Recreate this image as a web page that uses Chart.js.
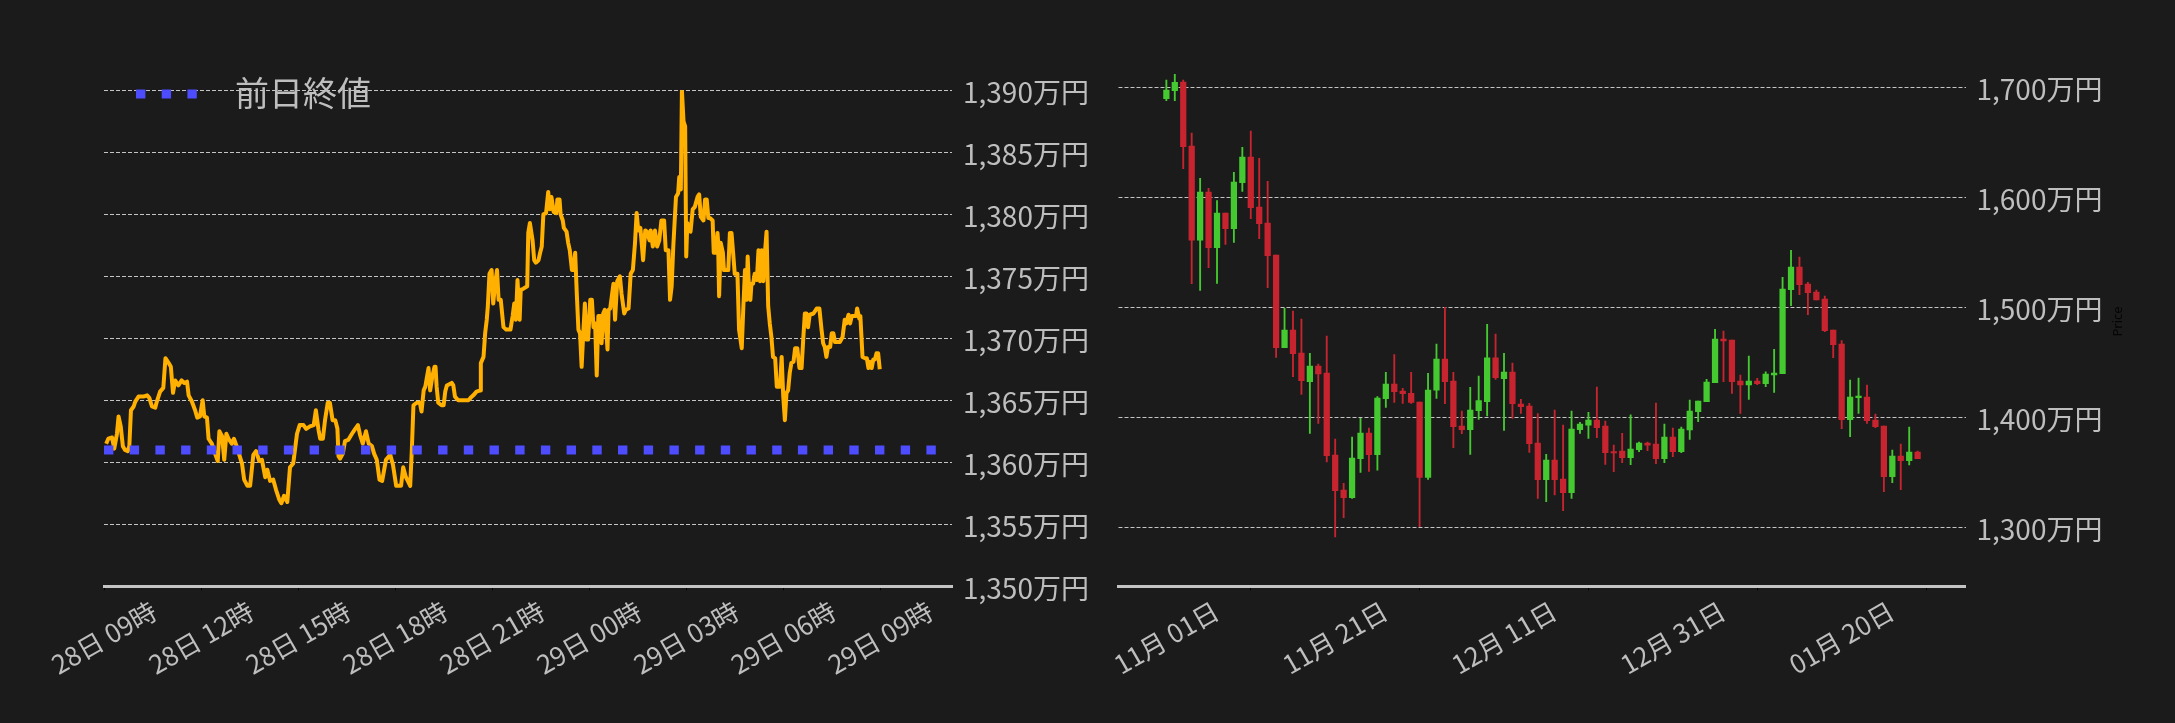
<!DOCTYPE html>
<html>
<head>
<meta charset="utf-8">
<script src="https://cdn.jsdelivr.net/npm/chart.js@4.4.1/dist/chart.umd.min.js"></script>
<style>
    html, body { margin: 0; padding: 0; background: #1b1b1b; overflow: hidden; }
    #wrap { position: relative; width: 2175px; height: 723px; }
    #intraday { position: absolute; left: 0; top: 0; width: 1100px; height: 723px; }
    #daily { position: absolute; left: 1100px; top: 0; width: 1075px; height: 723px; }
</style>
</head>
<body>
<div id="wrap">
    <canvas id="intraday" width="1100" height="723"></canvas>
    <canvas id="daily" width="1075" height="723"></canvas>
</div>
<script>
// 左: 28日 09時からの経過分と価格(万円)
const intradayMinutes = [
    4, 8, 15, 19, 24, 27, 31, 35, 39, 44, 47, 50, 55, 58, 64, 73, 80, 84, 89, 95,
    98, 104, 110, 114, 120, 124, 128, 132, 138, 144, 149, 154, 157, 163, 169, 173, 178, 183, 186, 191,
    194, 200, 206, 211, 214, 219, 223, 227, 231, 237, 241, 246, 251, 256, 260, 266, 271, 277, 282, 288,
    293, 299, 303, 308, 314, 319, 325, 329, 334, 340, 345, 351, 358, 363, 370, 375, 382, 389, 393, 398,
    401, 406, 410, 415, 419, 424, 429, 433, 435, 438, 443, 447, 453, 460, 466, 471, 475, 480, 486, 491,
    497, 501, 506, 511, 516, 523, 531, 536, 542, 551, 555, 560, 568, 571, 574, 580, 586, 589, 593, 596,
    602, 605, 609, 613, 615, 617, 620, 626, 630, 633, 636, 645, 648, 651, 657, 667, 676, 680, 685, 691,
    698, 699, 704, 707, 710, 712, 715, 719, 722, 725, 729, 732, 736, 741, 746, 750, 754, 758, 761, 764,
    767, 771, 773, 778, 785, 787, 790, 795, 798, 801, 806, 809, 812, 815, 820, 824, 827, 830, 834, 839,
    841, 845, 847, 851, 853, 858, 861, 864, 868, 871, 874, 877, 880, 883, 886, 889, 892, 895, 898, 902,
    905, 908, 911, 914, 917, 921, 923, 926, 929, 934, 936, 939, 945, 948, 952, 957, 960, 965, 968, 973,
    977, 981, 985, 988, 991, 995, 1000, 1004, 1007, 1012, 1014, 1018, 1022, 1026, 1030, 1034, 1039, 1042, 1047, 1050,
    1053, 1056, 1061, 1065, 1067, 1070, 1072, 1075, 1078, 1080, 1082, 1086, 1088, 1092, 1096, 1101, 1104, 1107, 1112, 1115,
    1118, 1121, 1124, 1129, 1131, 1135, 1138, 1139, 1141, 1144, 1148, 1150, 1154, 1158, 1161, 1164, 1167, 1170, 1175, 1178,
    1183, 1186, 1189, 1192, 1194, 1197, 1199, 1201, 1204, 1207, 1211, 1214, 1217, 1220, 1223, 1226, 1229, 1232, 1235, 1238,
    1241, 1245, 1248, 1251, 1254, 1257, 1260, 1263, 1266, 1269, 1272, 1275, 1279, 1282, 1286, 1290, 1294, 1297, 1300, 1303,
    1306, 1309, 1316, 1322, 1327, 1331, 1334, 1337, 1340, 1343, 1347, 1350, 1353, 1356, 1359, 1365, 1370, 1374, 1377, 1381,
    1384, 1387, 1390, 1395, 1397, 1401, 1403, 1407, 1411, 1415, 1418, 1421, 1424, 1427, 1430, 1433, 1436, 1439
];
const intradayPrices = [
    1361.5, 1361.9, 1362.0, 1361.1, 1362.3, 1363.7, 1362.9, 1361.3, 1361.0, 1360.9, 1361.3, 1364.2, 1364.5, 1364.9, 1365.3, 1365.3, 1365.4, 1365.2, 1364.5, 1364.4,
    1364.9, 1365.7, 1366.0, 1368.4, 1368.0, 1367.7, 1365.6, 1366.6, 1366.2, 1366.6, 1366.4, 1366.5, 1365.4, 1364.9, 1364.2, 1363.6, 1363.7, 1365.0, 1363.7, 1363.6,
    1361.9, 1361.5, 1360.7, 1360.1, 1362.5, 1362.1, 1360.2, 1362.3, 1361.9, 1361.5, 1361.9, 1361.3, 1360.6, 1359.9, 1358.6, 1358.1, 1358.1, 1360.6, 1360.9, 1360.1,
    1360.2, 1358.8, 1359.4, 1358.5, 1358.6, 1357.8, 1357.0, 1356.7, 1357.3, 1356.8, 1359.6, 1359.9, 1362.3, 1363.0, 1363.0, 1362.7, 1362.9, 1363.0, 1364.2, 1362.6,
    1361.9, 1361.9, 1363.4, 1364.8, 1364.8, 1363.4, 1363.4, 1362.7, 1360.5, 1360.3, 1360.7, 1361.7, 1361.8, 1362.3, 1362.7, 1363.0, 1362.2, 1361.5, 1362.5, 1361.5,
    1361.3, 1360.7, 1360.2, 1358.6, 1358.5, 1360.2, 1360.6, 1359.8, 1358.1, 1358.1, 1359.6, 1358.8, 1358.1, 1361.0, 1364.6, 1364.8, 1364.8, 1364.1, 1365.8, 1366.1,
    1367.6, 1365.8, 1366.9, 1367.7, 1367.7, 1366.1, 1364.8, 1364.6, 1364.6, 1365.7, 1366.2, 1366.4, 1366.2, 1365.3, 1365.0, 1365.0, 1365.0, 1365.2, 1365.4, 1365.7,
    1365.8, 1368.0, 1368.5, 1370.4, 1371.5, 1372.6, 1375.2, 1375.5, 1372.8, 1374.2, 1375.5, 1373.1, 1373.1, 1370.9, 1370.7, 1370.7, 1370.7, 1371.8, 1372.8, 1371.5,
    1374.7, 1371.5, 1373.9, 1374.0, 1374.2, 1378.5, 1379.3, 1377.9, 1376.3, 1376.1, 1376.3, 1376.9, 1377.4, 1380.0, 1380.1, 1381.8, 1380.4, 1381.4, 1380.2, 1380.1,
    1381.2, 1381.2, 1380.0, 1379.5, 1378.9, 1378.6, 1377.7, 1377.1, 1375.5, 1375.5, 1376.9, 1373.6, 1370.7, 1370.4, 1367.7, 1370.4, 1372.8, 1369.9, 1369.9, 1373.1,
    1373.1, 1370.9, 1371.2, 1367.0, 1371.8, 1371.8, 1369.6, 1372.0, 1372.3, 1369.1, 1372.3, 1372.4, 1374.4, 1371.5, 1374.6, 1375.0, 1373.6, 1372.0, 1372.3, 1372.4,
    1375.2, 1375.5, 1377.7, 1380.1, 1378.7, 1378.9, 1376.3, 1378.7, 1378.6, 1377.9, 1378.7, 1377.4, 1378.7, 1377.4, 1377.9, 1379.5, 1379.5, 1377.1, 1377.1, 1373.1,
    1374.2, 1377.4, 1381.4, 1381.7, 1383.0, 1382.0, 1390.0, 1387.5, 1387.1, 1376.6, 1379.3, 1378.7, 1378.6, 1380.4, 1380.6, 1381.4, 1381.6, 1379.8, 1379.5, 1381.2,
    1381.2, 1379.7, 1379.7, 1379.5, 1376.9, 1376.9, 1378.5, 1377.9, 1373.4, 1377.7, 1376.9, 1375.5, 1375.5, 1375.5, 1378.5, 1378.5, 1376.9, 1375.2, 1375.2, 1370.7,
    1369.2, 1372.6, 1375.5, 1373.1, 1376.6, 1373.4, 1373.1, 1374.4, 1374.4, 1375.2, 1374.7, 1377.1, 1374.6, 1377.1, 1374.6, 1376.9, 1378.6, 1372.6, 1371.2, 1370.1,
    1368.5, 1368.4, 1366.1, 1366.1, 1366.1, 1368.5, 1365.3, 1363.4, 1365.6, 1365.8, 1367.2, 1368.0, 1368.1, 1369.2, 1369.2, 1367.6, 1367.6, 1369.9, 1372.0, 1372.0,
    1370.9, 1371.9, 1372.0, 1372.4, 1372.4, 1370.7, 1369.6, 1369.3, 1368.5, 1369.3, 1369.3, 1370.4, 1370.4, 1369.7, 1369.7, 1369.7, 1370.1, 1371.5, 1371.2, 1371.9,
    1371.2, 1371.8, 1371.8, 1371.8, 1372.4, 1371.6, 1371.8, 1368.5, 1368.4, 1368.4, 1367.6, 1368.1, 1367.6, 1368.3, 1368.3, 1368.8, 1368.8, 1367.5
];
const prevCloseLabel = '前日終値';
const prevCloseValue = 1361.0;
const intradayXMax = 1573;
const intradayTickMinutes = [0, 180, 360, 540, 720, 900, 1080, 1260, 1440];
const intradayTickLabels = ['28日 09時', '28日 12時', '28日 15時', '28日 18時', '28日 21時', '29日 00時', '29日 03時', '29日 06時', '29日 09時'];
const intradayYTicks = [1350, 1355, 1360, 1365, 1370, 1375, 1380, 1385, 1390];

// 右: 日足 (11月 01日 = 0)
const candleOpen = [
    1689.7, 1697.0, 1704.8, 1646.7, 1561.2, 1604.8, 1554.2, 1585.8, 1571.5, 1613.3,
    1636.7, 1591.2, 1576.7, 1547.6, 1463.3, 1479.4, 1458.5, 1432.4, 1446.7, 1440.3,
    1365.8, 1333.9, 1326.9, 1362.4, 1385.8, 1366.1, 1416.9, 1430.3, 1423.9, 1421.8,
    1413.9, 1345.5, 1424.8, 1453.0, 1433.0, 1392.1, 1388.8, 1406.1, 1414.2, 1454.2,
    1435.2, 1441.2, 1412.1, 1410.3, 1376.7, 1343.3, 1361.2, 1343.9, 1331.5, 1388.8,
    1393.0, 1397.6, 1392.1, 1368.5, 1369.4, 1363.3, 1370.6, 1376.7, 1375.8, 1362.4,
    1382.1, 1368.8, 1388.5, 1405.2, 1414.2, 1431.5, 1471.2, 1470.3, 1433.0, 1429.4,
    1433.0, 1430.6, 1438.5, 1439.7, 1516.0, 1536.7, 1521.2, 1513.9, 1507.6, 1479.4,
    1466.7, 1397.9, 1418.0, 1418.5, 1397.6, 1392.1, 1346.1, 1364.8, 1360.6, 1368.5
];
const candleHigh = [
    1706.7, 1711.8, 1706.7, 1658.5, 1617.3, 1608.2, 1597.0, 1585.8, 1622.7, 1645.5,
    1660.3, 1635.5, 1614.5, 1547.6, 1499.1, 1496.7, 1489.4, 1458.2, 1448.5, 1473.9,
    1380.3, 1340.0, 1382.1, 1399.1, 1390.3, 1418.8, 1440.9, 1457.1, 1426.4, 1441.0,
    1413.9, 1440.0, 1466.7, 1500.0, 1440.9, 1405.8, 1427.3, 1437.6, 1484.5, 1475.8,
    1458.2, 1449.4, 1416.4, 1412.7, 1403.5, 1366.4, 1406.7, 1393.0, 1405.8, 1395.5,
    1404.5, 1427.6, 1396.7, 1374.8, 1385.5, 1402.4, 1377.6, 1377.6, 1413.0, 1393.9,
    1390.3, 1391.2, 1415.8, 1414.8, 1434.5, 1480.0, 1478.5, 1470.3, 1438.5, 1455.8,
    1435.5, 1441.5, 1461.8, 1527.3, 1551.8, 1545.8, 1522.7, 1515.8, 1510.3, 1479.4,
    1469.7, 1433.9, 1435.8, 1429.4, 1403.0, 1392.1, 1370.3, 1375.8, 1391.2, 1369.4
];
const candleLow = [
    1687.9, 1687.9, 1626.1, 1521.5, 1515.5, 1536.0, 1521.8, 1557.3, 1559.1, 1605.5,
    1580.6, 1562.4, 1517.9, 1454.5, 1463.3, 1436.9, 1420.9, 1385.5, 1394.5, 1359.5,
    1291.2, 1308.8, 1326.4, 1350.0, 1350.9, 1352.0, 1409.0, 1413.6, 1412.7, 1412.7,
    1300.5, 1343.5, 1417.3, 1412.4, 1372.4, 1385.2, 1366.4, 1398.2, 1401.2, 1434.5,
    1388.2, 1399.1, 1403.5, 1368.2, 1326.4, 1323.3, 1329.4, 1315.2, 1326.4, 1385.5,
    1380.9, 1381.5, 1357.3, 1350.6, 1358.8, 1357.0, 1368.8, 1369.7, 1357.9, 1358.8,
    1364.2, 1367.9, 1380.0, 1396.0, 1414.2, 1431.5, 1432.4, 1421.8, 1403.6, 1416.4,
    1429.7, 1427.9, 1422.7, 1439.7, 1501.5, 1511.5, 1493.3, 1506.7, 1477.9, 1454.2,
    1389.7, 1382.4, 1403.6, 1394.5, 1390.6, 1332.4, 1340.6, 1334.2, 1356.7, 1362.4
];
const candleClose = [
    1697.6, 1704.5, 1646.1, 1561.2, 1604.8, 1554.2, 1585.8, 1571.5, 1613.9, 1636.7,
    1590.6, 1576.1, 1547.0, 1463.3, 1479.4, 1457.9, 1433.3, 1446.7, 1439.5, 1365.2,
    1333.3, 1326.9, 1363.0, 1385.8, 1366.1, 1417.6, 1430.3, 1423.3, 1421.6, 1413.6,
    1345.5, 1424.8, 1453.0, 1432.4, 1391.5, 1388.8, 1406.7, 1415.2, 1454.2, 1436.1,
    1441.2, 1412.4, 1409.7, 1376.1, 1343.3, 1361.2, 1343.3, 1331.5, 1389.4, 1393.9,
    1397.6, 1390.6, 1367.9, 1367.6, 1363.3, 1371.2, 1376.7, 1374.8, 1362.4, 1382.1,
    1368.8, 1389.4, 1405.8, 1414.8, 1432.1, 1471.2, 1469.4, 1432.4, 1429.4, 1433.0,
    1430.6, 1439.4, 1440.3, 1516.7, 1536.7, 1520.6, 1513.3, 1506.7, 1478.8, 1466.1,
    1397.9, 1418.5, 1418.5, 1397.0, 1391.5, 1346.1, 1364.8, 1360.6, 1368.5, 1362.4
];
const dailyXMin = -5.67;
const dailyXMax = 94.67;
const dailyTickDays = [0, 20, 40, 60, 80];
const dailyTickLabels = ['11月 01日', '11月 21日', '12月 11日', '12月 31日', '01月 20日'];
const dailyYTicks = [1300, 1400, 1500, 1600, 1700];
const priceAxisTitle = 'Price';

Chart.defaults.font.family = '"Noto Sans CJK JP", "Noto Sans", sans-serif';
Chart.defaults.animation = false;

const labelColor = '#bebebe';
const gridColor = 'rgba(215, 215, 215, 0.9)';
const upColor = '#45c930';
const downColor = '#c8242f';

function manYen(v) {
    return Number(v).toLocaleString('en-US') + '万円';
}

// 凡例はプロットの中に描く
const prevCloseLegend = {
    id: 'prevCloseLegend',
    afterDatasetsDraw(chart) {
        const ds = chart.data.datasets.find(d => d.label === prevCloseLabel);
        const ctx = chart.ctx;
        const area = chart.chartArea;
        ctx.save();
        ctx.strokeStyle = ds.borderColor;
        ctx.lineWidth = ds.borderWidth;
        ctx.lineCap = 'butt';
        ctx.setLineDash(ds.borderDash);
        ctx.beginPath();
        ctx.moveTo(area.left + 32, area.top + 3.7);
        ctx.lineTo(area.left + 93, area.top + 3.7);
        ctx.stroke();
        ctx.setLineDash([]);
        ctx.fillStyle = labelColor;
        ctx.font = '34px "Noto Sans CJK JP"';
        ctx.textBaseline = 'middle';
        ctx.fillText(ds.label, area.left + 131, area.top + 3);
        ctx.restore();
    }
};

const priceTitle = {
    id: 'priceTitle',
    afterDraw(chart) {
        const ctx = chart.ctx;
        const area = chart.chartArea;
        ctx.save();
        ctx.translate(area.right + 152.5, 321.5);
        ctx.rotate(-Math.PI / 2);
        ctx.fillStyle = '#050505';
        ctx.font = '13px "Noto Sans", sans-serif';
        ctx.textAlign = 'center';
        ctx.textBaseline = 'middle';
        ctx.fillText(priceAxisTitle, 0, 0);
        ctx.restore();
    }
};

new Chart('intraday', {
    type: 'line',
    data: {
        datasets: [{
            label: '価格',
            data: intradayMinutes.map((m, i) => ({ x: m, y: intradayPrices[i] })),
            borderColor: '#ffb000',
            borderWidth: 4,
            borderJoinStyle: 'round',
            pointRadius: 0,
            tension: 0,
            order: 1
        }, {
            label: prevCloseLabel,
            data: [{ x: 0, y: prevCloseValue }, { x: intradayXMax, y: prevCloseValue }],
            borderColor: '#4d4dff',
            borderWidth: 9,
            borderDash: [9.4, 16.3],
            borderCapStyle: 'butt',
            pointRadius: 0,
            order: 0
        }]
    },
    options: {
        responsive: false,
        animation: false,
        layout: { padding: { left: 104, top: 90.3, right: 8, bottom: 6.7 } },
        plugins: { legend: { display: false }, tooltip: { enabled: false } },
        scales: {
            x: {
                type: 'linear',
                min: 0,
                max: intradayXMax,
                afterBuildTicks: s => { s.ticks = intradayTickMinutes.map(v => ({ value: v })); },
                afterFit: s => { s.height = 130; s.paddingLeft = 0; s.paddingRight = 0; },
                grid: { drawOnChartArea: false, drawTicks: true, tickLength: 4, tickColor: '#000' },
                border: { display: true, color: '#c4c4c4', width: 3 },
                ticks: {
                    autoSkip: false,
                    maxRotation: 30,
                    minRotation: 30,
                    padding: 5,
                    labelOffset: 50,
                    color: labelColor,
                    font: { size: 26 },
                    callback: v => intradayTickLabels[intradayTickMinutes.indexOf(v)]
                }
            },
            y: {
                position: 'right',
                min: 1350,
                max: 1390,
                afterBuildTicks: s => { s.ticks = intradayYTicks.map(v => ({ value: v })); },
                afterFit: s => { s.width = 140; },
                grid: { color: gridColor, lineWidth: 1, drawTicks: false },
                border: { display: false, dash: [4, 2] },
                ticks: { padding: 11, labelOffset: 2, color: labelColor, font: { size: 28 }, callback: v => manYen(v) }
            }
        }
    },
    plugins: [prevCloseLegend]
});

const candleColors = candleOpen.map((o, i) => candleClose[i] >= o ? upColor : downColor);

new Chart('daily', {
    type: 'bar',
    data: {
        datasets: [{
            label: 'ヒゲ',
            data: candleLow.map((l, i) => ({ x: i, y: [l, candleHigh[i]] })),
            backgroundColor: candleColors,
            barThickness: 1.2,
            grouped: false,
            order: 1
        }, {
            label: '実体',
            data: candleOpen.map((o, i) => ({ x: i, y: [o, candleClose[i]] })),
            backgroundColor: candleColors,
            barThickness: 5.6,
            minBarLength: 1.5,
            grouped: false,
            order: 0
        }]
    },
    options: {
        responsive: false,
        animation: false,
        layout: { padding: { left: 18.5, top: 70, right: 59.5, bottom: 6.7 } },
        plugins: { legend: { display: false }, tooltip: { enabled: false } },
        scales: {
            x: {
                type: 'linear',
                offset: false,
                min: dailyXMin,
                max: dailyXMax,
                afterBuildTicks: s => { s.ticks = dailyTickDays.map(v => ({ value: v })); },
                afterFit: s => { s.height = 130; s.paddingLeft = 0; s.paddingRight = 0; },
                grid: { drawOnChartArea: false, drawTicks: true, tickLength: 4, tickColor: '#000' },
                border: { display: true, color: '#c4c4c4', width: 3 },
                ticks: {
                    autoSkip: false,
                    maxRotation: 30,
                    minRotation: 30,
                    padding: 5,
                    labelOffset: 50,
                    color: labelColor,
                    font: { size: 26 },
                    callback: v => dailyTickLabels[dailyTickDays.indexOf(v)]
                }
            },
            y: {
                position: 'right',
                min: 1246.4,
                max: 1715.8,
                afterBuildTicks: s => { s.ticks = dailyYTicks.map(v => ({ value: v })); },
                afterFit: s => { s.width = 150; },
                grid: { color: gridColor, lineWidth: 1, drawTicks: false },
                border: { display: false, dash: [4, 2] },
                ticks: { padding: 11, labelOffset: 2, color: labelColor, font: { size: 28 }, callback: v => manYen(v) }
            }
        }
    },
    plugins: [priceTitle]
});
</script>
</body>
</html>
